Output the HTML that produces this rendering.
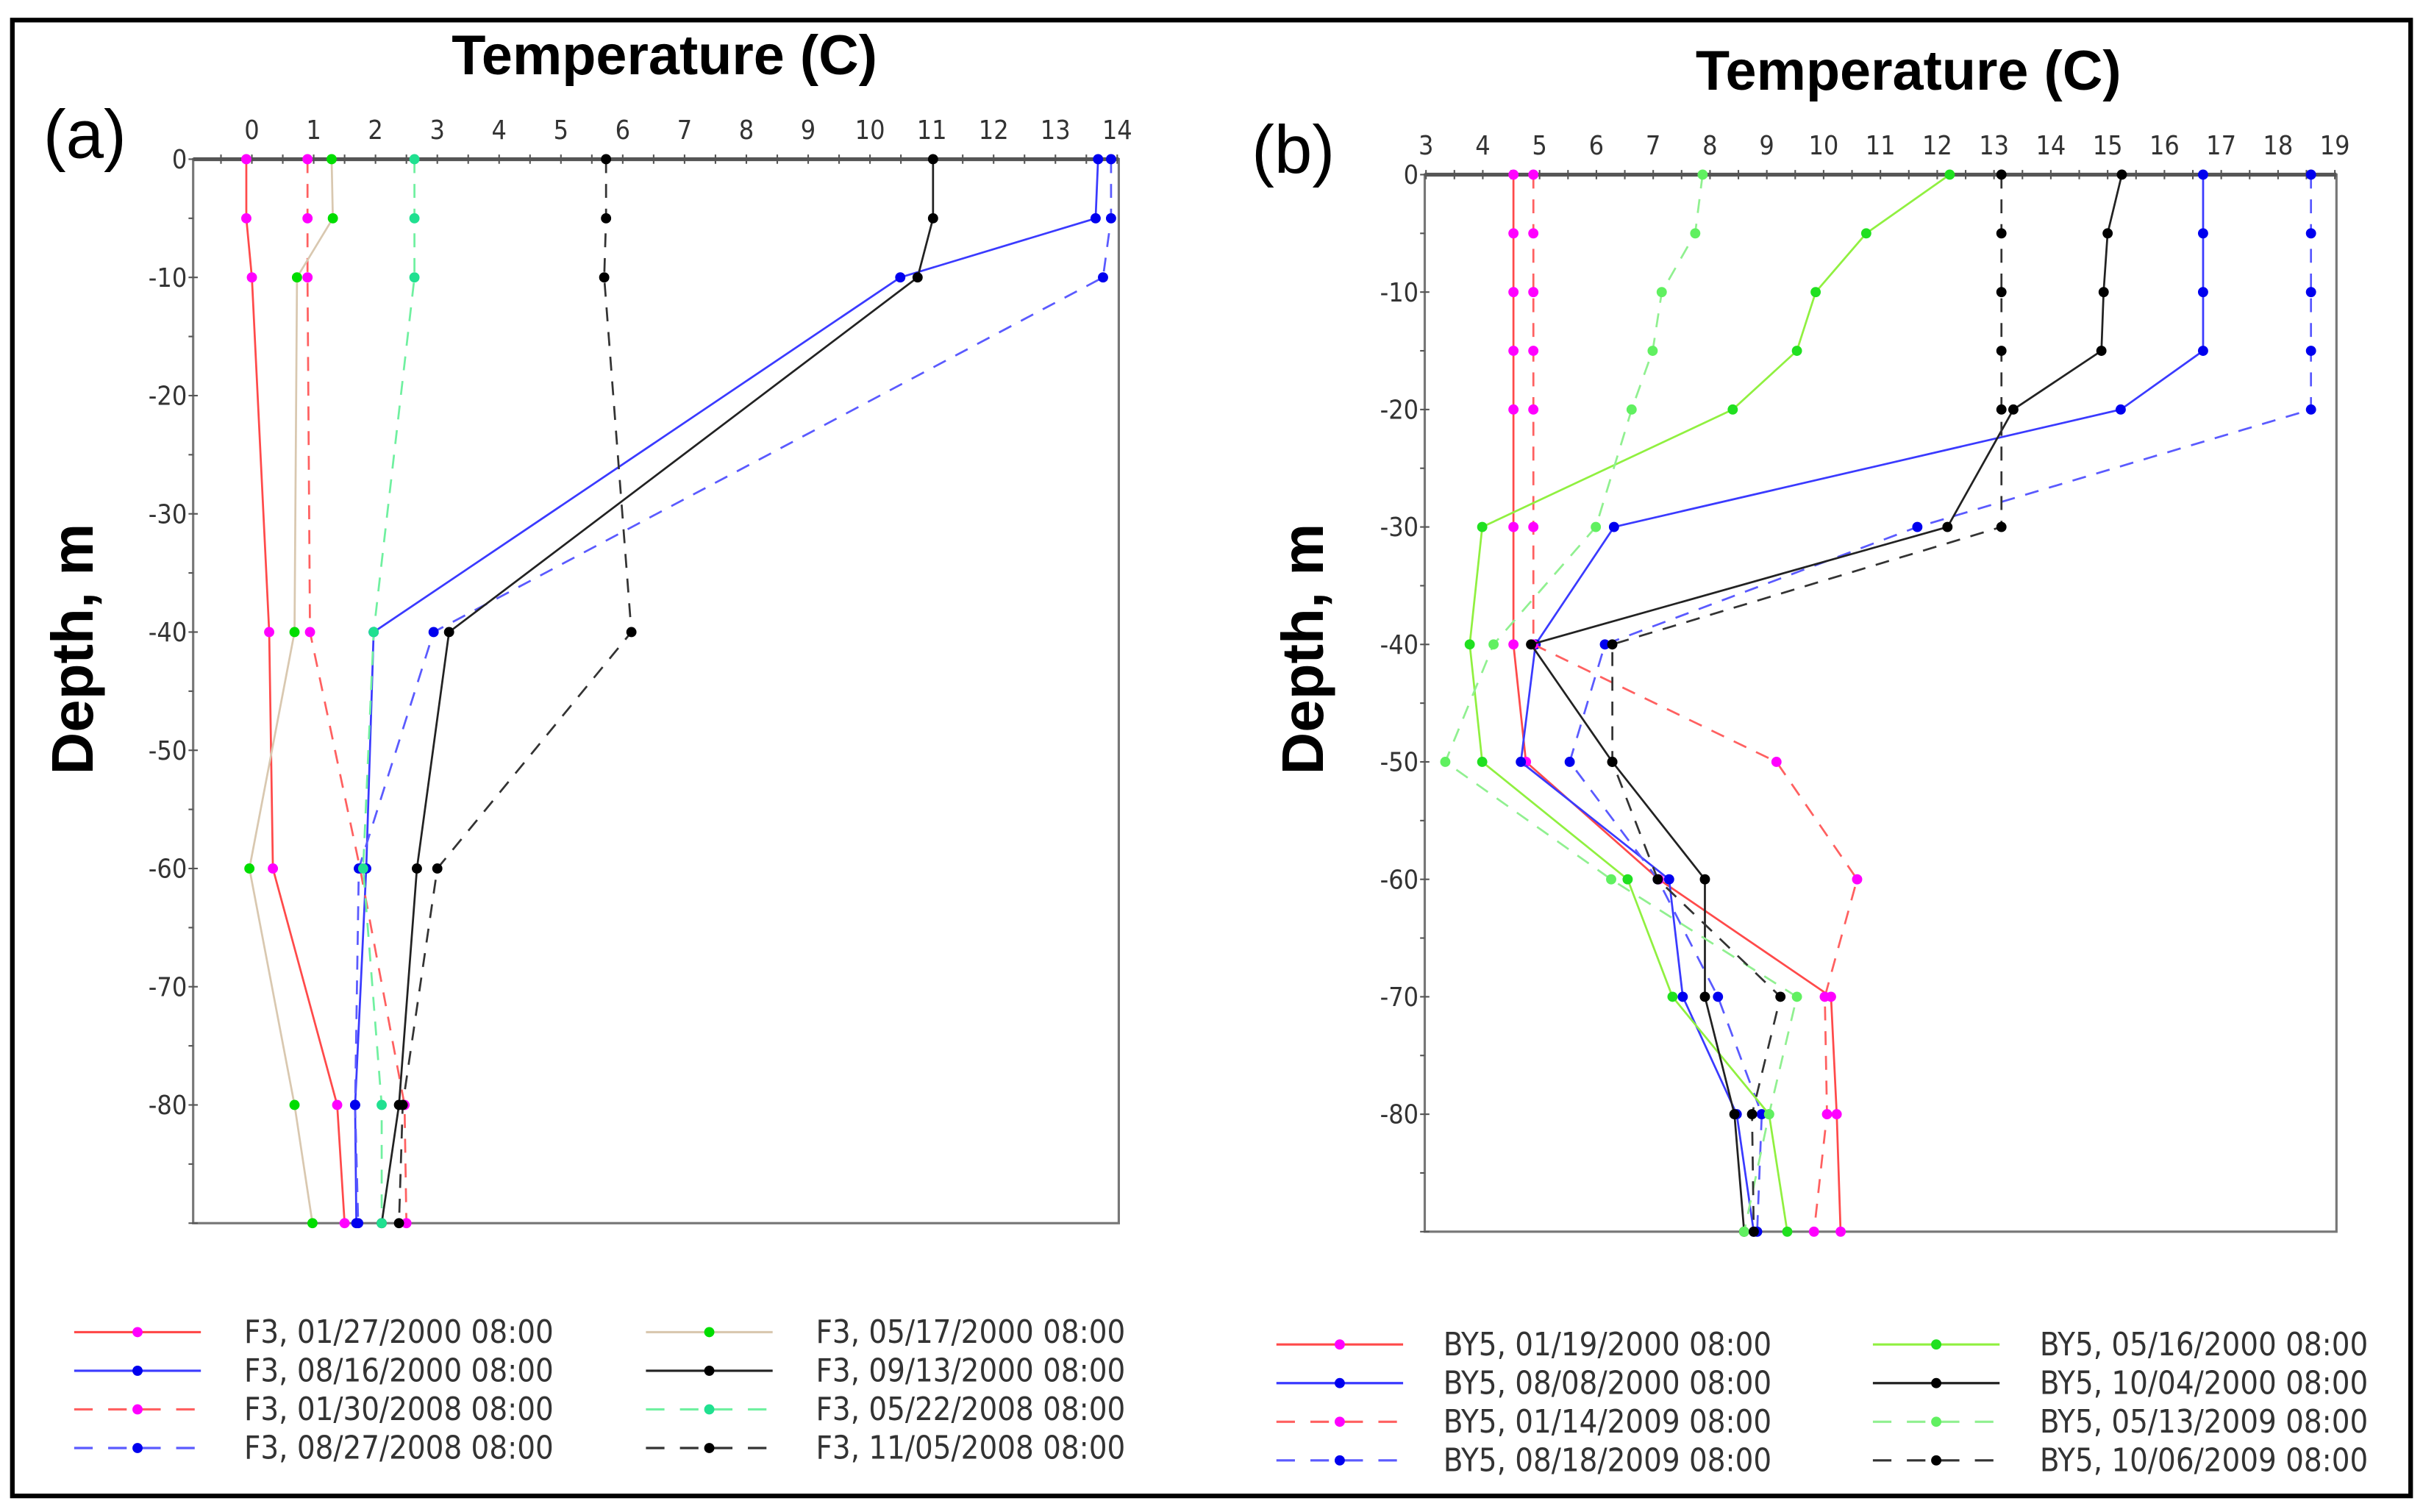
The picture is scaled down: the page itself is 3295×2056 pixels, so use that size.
<!DOCTYPE html>
<html><head><meta charset="utf-8"><style>
html,body{margin:0;padding:0;background:#fff;}
svg{display:block;}
text{font-family:"DejaVu Sans Condensed","Liberation Sans",sans-serif;}
.tick{font-size:17px;fill:#333;}
.leg{font-size:20.6px;fill:#333;}
.ttl{font-family:"Liberation Sans",sans-serif;font-weight:bold;font-size:36px;fill:#000;}
.pl{font-family:"Liberation Sans",sans-serif;font-size:44px;fill:#000;}
</style></head><body>
<svg id="fig" width="3295" height="2056" viewBox="0 0 1568 978.4" preserveAspectRatio="none" xmlns="http://www.w3.org/2000/svg">
<rect x="8" y="13" width="1552" height="955" fill="#fff" stroke="#000" stroke-width="3"/>
</svg>
<script>
// ---------- Panel (a) data ----------
const depthsA = [0,-5,-10,-40,-60,-80,-90];
const xTicksA = [0,1,2,3,4,5,6,7,8,9,10,11,12,13,14];
const yTicksA = [0,-10,-20,-30,-40,-50,-60,-70,-80];
const labelsA = ["F3, 01/27/2000 08:00","F3, 08/16/2000 08:00","F3, 01/30/2008 08:00","F3, 08/27/2008 08:00","F3, 05/17/2000 08:00","F3, 09/13/2000 08:00","F3, 05/22/2008 08:00","F3, 11/05/2008 08:00"];
const a_jan2000 = [-0.09,-0.09,0,0.28,0.34,1.38,1.5];
const a_aug2000 = [13.69,13.65,10.49,1.97,1.85,1.67,1.69];
const a_jan2008 = [0.9,0.9,0.9,0.94,1.75,2.47,2.5];
const a_aug2008 = [13.9,13.9,13.77,2.94,1.73,1.67,1.72];
const a_may2000 = [1.29,1.31,0.73,0.69,-0.04,0.69,0.98];
const a_sep2000 = [11.02,11.02,10.77,3.19,2.67,2.38,2.1];
const a_may2008 = [2.63,2.63,2.63,1.97,1.8,2.1,2.1];
const a_nov2008 = [5.73,5.73,5.7,6.14,3.0,2.44,2.38];
// ---------- Panel (b) data ----------
const depthsB = [0,-5,-10,-15,-20,-30,-40,-50,-60,-70,-80,-90];
const xTicksB = [3,4,5,6,7,8,9,10,11,12,13,14,15,16,17,18,19];
const yTicksB = [0,-10,-20,-30,-40,-50,-60,-70,-80];
const labelsB = ["BY5, 01/19/2000 08:00","BY5, 08/08/2000 08:00","BY5, 01/14/2009 08:00","BY5, 08/18/2009 08:00","BY5, 05/16/2000 08:00","BY5, 10/04/2000 08:00","BY5, 05/13/2009 08:00","BY5, 10/06/2009 08:00"];
const b_jan2000 = [4.54,4.54,4.54,4.54,4.54,4.54,4.54,4.76,7.1,10.13,10.23,10.3];
const b_aug2000 = [16.68,16.68,16.68,16.68,15.23,6.31,4.93,4.67,7.28,7.52,8.47,8.77];
const b_jan2009 = [4.89,4.89,4.89,4.89,4.89,4.89,4.89,9.17,10.59,10.02,10.06,9.83];
const b_aug2009 = [18.58,18.58,18.58,18.58,18.58,11.65,6.15,5.53,7.08,8.14,8.91,8.83];
const b_may2000 = [12.22,10.75,9.86,9.53,8.4,3.99,3.77,3.99,6.55,7.34,9.04,9.36];
const b_oct2000 = [15.25,15.0,14.93,14.89,13.34,12.18,4.85,6.28,7.91,7.91,8.43,8.6];
const b_may2009 = [7.87,7.74,7.15,6.99,6.62,5.99,4.19,3.34,6.26,9.53,9.04,8.6];
const b_oct2009 = [13.13,13.13,13.13,13.13,13.13,13.13,6.28,6.28,7.08,9.24,8.74,8.77];

const NS='http://www.w3.org/2000/svg';
const svg=document.getElementById('fig');
function mk(tag,attrs,parent){const e=document.createElementNS(NS,tag);for(const k in attrs)e.setAttribute(k,attrs[k]);(parent||svg).appendChild(e);return e;}

const styles=[
 {line:'#ff4a4a',mk:'#ff00ff',dash:''},
 {line:'#3a3aff',mk:'#0000ee',dash:''},
 {line:'#ff6060',mk:'#ff00ff',dash:'9,7'},
 {line:'#5a5aff',mk:'#0000ee',dash:'9,7'},
 {line:null,mk:'#00dd00',dash:''},
 {line:'#222',mk:'#000',dash:''},
 {line:null,mk:null,dash:'9,7'},
 {line:'#333',mk:'#000',dash:'9,7'}
];

function panel(P){
 const g=mk('g',{});
 
 
 const X=v=>P.x0+(v-P.xmin)*P.kx, Y=d=>P.y0-d*P.ky;
 const fr=mk('rect',{x:P.left,y:P.y0,width:P.right-P.left,height:Y(-90)-P.y0,fill:'none',stroke:'#777','stroke-width':1.5},g);
 
 const ax=mk('line',{x1:P.left,y1:P.y0,x2:P.right,y2:P.y0,stroke:'#555','stroke-width':2.5},g);
 
 for(let v=P.xmin;v<=P.xmax+0.001;v+=0.5){if(X(v)<P.left-1)continue;mk('line',{x1:X(v),y1:P.y0-3,x2:X(v),y2:P.y0+3,stroke:'#555','stroke-width':1},g);}
 P.xt.forEach(v=>{const t=mk('text',{x:X(v),y:P.y0-13,'text-anchor':'middle',class:'tick'},g);t.textContent=v;
  });
 for(let d=0;d>=-90;d-=5){mk('line',{x1:P.left-3,y1:Y(d),x2:P.left+(d%10==0?3:0),y2:Y(d),stroke:'#555','stroke-width':1},g);}
 P.yt.forEach(d=>{const t=mk('text',{x:P.left-4,y:Y(d)+6,'text-anchor':'end',class:'tick'},g);t.textContent=d;
  });
 const tt=mk('text',{x:P.tx,y:P.ty,'text-anchor':'middle',class:'ttl'},g);tt.textContent='Temperature (C)';
 
 const yl=mk('text',{x:0,y:0,'text-anchor':'middle',class:'ttl',transform:`translate(${P.yx},${P.yy}) rotate(-90)`,style:'font-size:38px'},g);yl.textContent='Depth, m';
 
 const pl=mk('text',{x:P.lx,y:P.ly,class:'pl'},g);pl.textContent=P.label;
 
 P.series.forEach((s,i)=>{
  const st=Object.assign({},styles[i],P.over[i]||{});
  const sg=mk('g',{},g);
  
  const pts=s.map((v,j)=>X(v).toFixed(1)+','+Y(P.depths[j]).toFixed(1)).join(' ');
  mk('polyline',{points:pts,fill:'none',stroke:st.line,'stroke-width':1.3,'stroke-dasharray':st.dash},sg);
  s.forEach((v,j)=>{const c=mk('circle',{cx:X(v),cy:Y(P.depths[j]),r:3.3,fill:st.mk},sg);
   });
  const col=i<4?0:1,row=i%4;
  const lx=P.legX[col],ly=P.legY+row*25;
  const le=mk('g',{},g);
  mk('line',{x1:lx,y1:ly,x2:lx+82,y2:ly,stroke:st.line,'stroke-width':1.5,'stroke-dasharray':st.dash?'12,10':''},le);
  mk('circle',{cx:lx+41,cy:ly,r:3.3,fill:st.mk},le);
  const lt=mk('text',{x:lx+P.legT,y:ly+7,class:'leg'},le);lt.textContent=P.labels[i];
 });
}

panel({name:'panel-a',x0:123,xmin:-1,xmax:14,kx:40,y0:103,ky:7.65,left:125,right:724,
 xt:xTicksA,yt:yTicksA,depths:depthsA,tx:430,ty:48,yx:60,yy:420,lx:28,ly:102,label:'(a)',
 series:[a_jan2000,a_aug2000,a_jan2008,a_aug2008,a_may2000,a_sep2000,a_may2008,a_nov2008],labels:labelsA,
 over:{4:{line:'#d9c8b0'},6:{line:'#70f0a0',mk:'#20e090'}},
 legX:[48,418],legY:862,legT:110});

panel({name:'panel-b',x0:922.8,xmin:3,xmax:19,kx:36.76,y0:113,ky:7.6,left:922,right:1512,
 xt:xTicksB,yt:yTicksB,depths:depthsB,tx:1235,ty:58,yx:856,yy:420,lx:810,ly:112,label:'(b)',
 series:[b_jan2000,b_aug2000,b_jan2009,b_aug2009,b_may2000,b_oct2000,b_may2009,b_oct2009],labels:labelsB,
 over:{4:{line:'#90f040',mk:'#20e020'},6:{line:'#90f090',mk:'#60f060'}},
 legX:[826,1212],legY:870,legT:108});
</script>
</body></html>
